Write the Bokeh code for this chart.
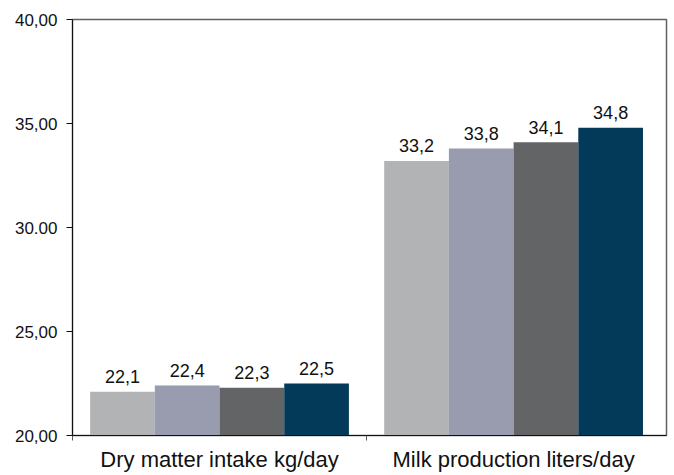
from bokeh.plotting import figure
from bokeh.models import ColumnDataSource, Range1d, FixedTicker
from bokeh.core.properties import value
from bokeh.embed import file_html
from bokeh.resources import INLINE

categories = ["Dry matter intake kg/day", "Milk production liters/day"]
series_1 = [22.1, 33.2]
series_2 = [22.4, 33.8]
series_3 = [22.3, 34.1]
series_4 = [22.5, 34.8]
series = [series_1, series_2, series_3, series_4]
colors = ["#b1b3b5", "#989cae", "#636466", "#033a59"]
y_ticks = [20, 25, 30, 35, 40]
y_tick_labels = ["20,00", "25,00", "30.00", "35,00", "40,00"]

p = figure(width=674, height=475, output_backend="svg", toolbar_location=None,
           x_range=Range1d(0, 2.02), y_range=Range1d(20, 40),
           min_border_left=72, min_border_right=8, min_border_top=19, min_border_bottom=40)
p.background_fill_color = "white"
p.border_fill_color = "white"
p.outline_line_color = "#606060"
p.outline_line_width = 1.5
p.xgrid.visible = False
p.ygrid.visible = False

bar_w = 0.22
centers = [i + 0.5 for i in range(len(categories))]
for k, (vals, col) in enumerate(zip(series, colors)):
    xs = [c + (k - 1.5) * bar_w for c in centers]
    src = ColumnDataSource(dict(x=xs, top=vals, lab=[f"{v:.1f}".replace(".", ",") for v in vals]))
    p.vbar(x="x", top="top", bottom=20, width=bar_w, source=src, fill_color=col, line_color=None)
    p.text(x="x", y="top", text="lab", source=src, text_align="center", text_baseline="alphabetic",
           y_offset=-15, text_font=value("Liberation Sans"),
           text_font_size="18px", text_color="#111111")

xa = p.xaxis[0]
xa.ticker = FixedTicker(ticks=centers, minor_ticks=[0, 1])
xa.major_label_overrides = {c: name for c, name in zip(centers, categories)}
xa.major_tick_out = 0
xa.major_tick_in = 0
xa.minor_tick_out = 5
xa.minor_tick_in = 0
xa.minor_tick_line_color = "#555555"
xa.axis_line_color = "#111111"
xa.major_label_text_font = "Liberation Sans"
xa.major_label_text_font_size = "22px"
xa.major_label_text_color = "#111111"
xa.major_label_standoff = 6

ya = p.yaxis[0]
ya.ticker = FixedTicker(ticks=y_ticks)
ya.major_label_overrides = {t: s for t, s in zip(y_ticks, y_tick_labels)}
ya.major_tick_out = 6
ya.major_tick_in = 0
ya.minor_tick_out = 0
ya.minor_tick_in = 0
ya.axis_line_color = "#111111"
ya.major_tick_line_color = "#111111"
ya.major_label_text_font = "Liberation Sans"
ya.major_label_text_font_size = "17px"
ya.major_label_text_color = "#111111"
ya.major_label_standoff = 9

open("out.html", "w").write(file_html(p, INLINE))
